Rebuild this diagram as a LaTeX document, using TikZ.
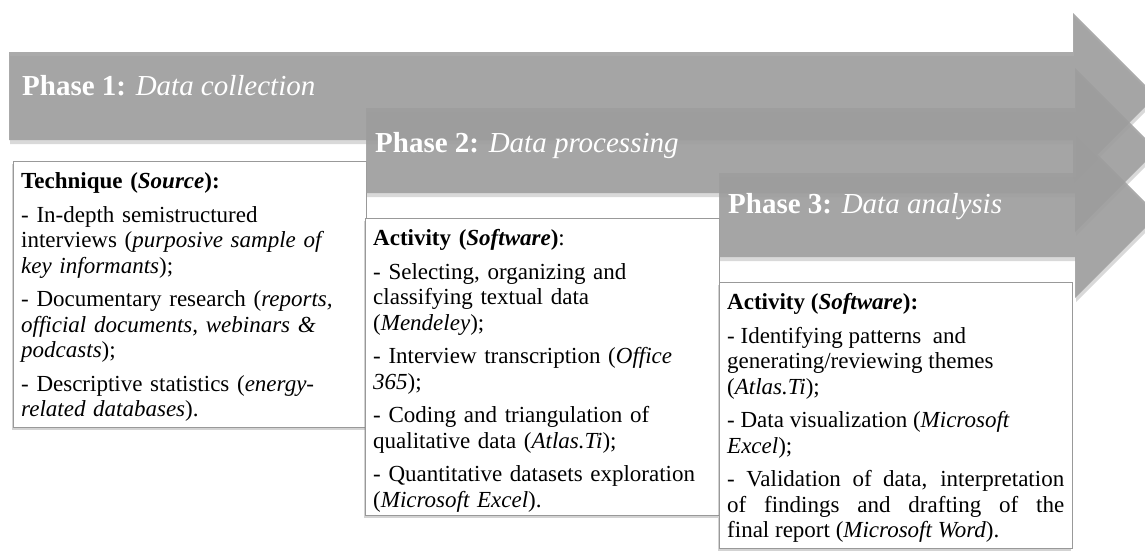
\documentclass[tikz,border=0pt]{standalone}
\usepackage{fontspec}
\setmainfont{Liberation Serif}
\usetikzlibrary{shadows}
\begin{document}
\begin{tikzpicture}[x=1pt,y=-1pt,
  phasearrow/.style={fill=black!38, fill opacity=0.88, draw=none,
    drop shadow={shadow xshift=1pt, shadow yshift=-4pt, opacity=0.3}},
  phaselabel/.style={anchor=base west, text=white, inner sep=0pt,
    font=\fontsize{29}{32}\selectfont},
  boxframe/.style={draw=black!40, line width=0.8pt, fill=white, anchor=north west,
    inner sep=0pt, drop shadow={shadow xshift=-1.5pt, shadow yshift=-2.5pt, opacity=0.35}},
  boxtext/.style={anchor=north west, inner xsep=8pt, inner ysep=0pt, text width=#1,
    font=\fontsize{23}{25.5}\selectfont},
]
\useasboundingbox (0,0) rectangle (1145,550);
\clip (0,0) rectangle (1145,550);

% Phase 1
\path[phasearrow] (9,52) -- (1073,52) -- (1073,13) -- (1156,96) -- (1073,179) -- (1073,140) -- (9,140) -- cycle;
\node[phaselabel] (p1) at (22,95) {\textbf{Phase 1:} \textit{Data collection}};
\node[boxframe, minimum width=353pt, minimum height=266pt] (b1) at (13,161) {};
\node[boxtext=337pt, align=left] (t1) at (13,172.5) {%
\textbf{Technique (\textit{Source}):}\\[8pt]
- In-depth semistructured\\
interviews (\textit{purposive sample of}\\
\textit{key informants});\\[8pt]
- Documentary research (\textit{reports,}\\
\textit{official documents, webinars \&}\\
\textit{podcasts});\\[8pt]
- Descriptive statistics (\textit{energy-}\\
\textit{related databases}).};

% Phase 2
\path[phasearrow] (366,108) -- (1075,108) -- (1075,68) -- (1157,150) -- (1075,232) -- (1075,193) -- (366,193) -- cycle;
\node[phaselabel] (p2) at (375,152) {\textbf{Phase 2:} \textit{Data processing}};
\node[boxframe, minimum width=354pt, minimum height=297pt] (b2) at (365,218) {};
\node[boxtext=338pt, align=left] (t2) at (365,229.5) {%
\textbf{Activity (\textit{Software})}:\\[8pt]
- Selecting, organizing and\\
classifying textual data\\
(\textit{Mendeley});\\[8pt]
- Interview transcription (\textit{Office}\\
\textit{365});\\[8pt]
- Coding and triangulation of\\
qualitative data (\textit{Atlas.Ti});\\[8pt]
- Quantitative datasets exploration\\
(\textit{Microsoft Excel}).};

% Phase 3
\path[phasearrow] (719,173) -- (1075,173) -- (1075,132) -- (1158,215) -- (1075,298) -- (1075,257) -- (719,257) -- cycle;
\node[phaselabel] (p3) at (728,213) {\textbf{Phase 3:} \textit{Data analysis}};
\node[boxframe, minimum width=353pt, minimum height=266pt] (b3) at (719,282) {};
\node[boxtext=337pt, align=justify] (t3) at (719,293.5) {%
\textbf{Activity (\textit{Software}):}\\[8pt]
- Identifying patterns~~and\\
generating/reviewing themes\\
(\textit{Atlas.Ti});\\[8pt]
- Data visualization (\textit{Microsoft}\\
\textit{Excel});\\[8pt]
- Validation of data, interpretation\linebreak
of findings and drafting of the\linebreak
final report (\textit{Microsoft Word}).};
\end{tikzpicture}
\end{document}
